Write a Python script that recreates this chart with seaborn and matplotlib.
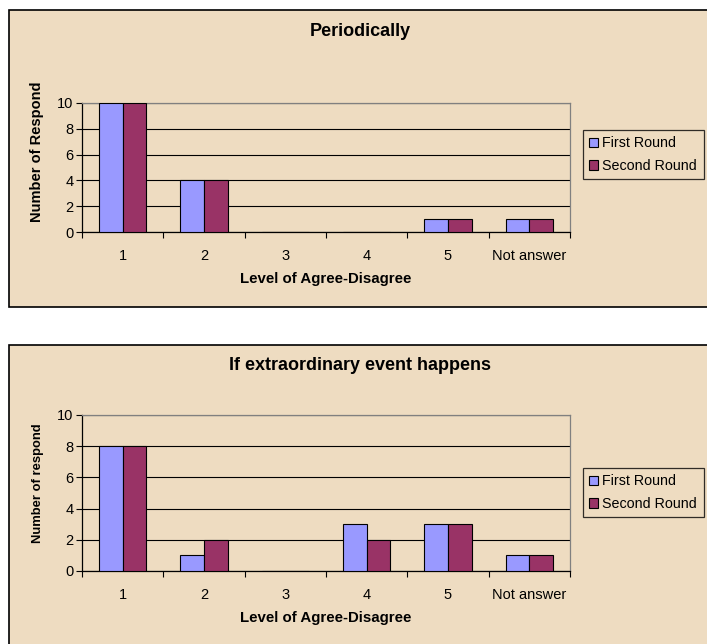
import pandas as pd
import seaborn as sns
import matplotlib.pyplot as plt
from matplotlib.patches import Rectangle

# chart values
levels = ["1", "2", "3", "4", "5", "Not answer"]
rounds = ["First Round", "Second Round"]
periodic_first = [10, 4, 0, 0, 1, 1]
periodic_second = [10, 4, 0, 0, 1, 1]
extra_first = [8, 1, 0, 3, 3, 1]
extra_second = [8, 2, 0, 2, 3, 1]

W, H = 707, 644
bg = "#EEDCC1"
colors = ["#9999FF", "#993366"]

sns.set_theme(style="white")
plt.rcParams["font.family"] = ["Liberation Sans", "DejaVu Sans"]
plt.rcParams["text.color"] = "black"
plt.rcParams["axes.labelcolor"] = "black"
plt.rcParams["xtick.color"] = "black"
plt.rcParams["ytick.color"] = "black"

fig = plt.figure(figsize=(W / 100, H / 100), dpi=100)
fig.patch.set_facecolor("white")


def long_df(first, second):
    return pd.DataFrame({
        "level": levels * 2,
        "count": first + second,
        "round": [rounds[0]] * len(levels) + [rounds[1]] * len(levels),
    })


def panel(top, bottom, ax_top, ax_bottom, title, ylabel, first, second, leg_top,
          ylab_size, ylab_y):
    # chart area box (pixel coords from top)
    fig.patches.append(Rectangle((9 / W, 1 - bottom / H), 1.0, (bottom - top) / H,
                                 transform=fig.transFigure, facecolor=bg,
                                 edgecolor="black", linewidth=1.2, zorder=-5))
    ax = fig.add_axes([82 / W, 1 - ax_bottom / H, 488 / W, (ax_bottom - ax_top) / H])
    ax.set_facecolor(bg)
    sns.barplot(data=long_df(first, second), x="level", y="count", hue="round",
                palette=colors, width=0.58, edgecolor="black", linewidth=0.8,
                saturation=1, ax=ax, zorder=3)
    ax.set_ylim(0, 10)
    ax.set_xlim(-0.5, 5.5)
    ax.set_yticks(range(0, 11, 2))
    ax.yaxis.grid(True, color="black", linewidth=0.8, zorder=0)
    ax.set_axisbelow(True)
    ax.tick_params(axis="y", direction="out", length=4, width=0.8, color="black",
                   labelsize=10.5, pad=2, left=True)
    ax.set_xticks(range(len(levels)))
    ax.set_xticklabels(levels)
    ax.tick_params(axis="x", which="major", length=0, labelsize=10.5, pad=12)
    ax.set_xticks([i - 0.5 for i in range(len(levels) + 1)], minor=True)
    ax.tick_params(axis="x", which="minor", direction="out", length=4, width=0.8,
                   color="black", bottom=True)
    for s in ["left", "bottom"]:
        ax.spines[s].set_color("black")
        ax.spines[s].set_linewidth(0.9)
    for s in ["top", "right"]:
        ax.spines[s].set_color("#808080")
        ax.spines[s].set_linewidth(0.9)
    ax.set_xlabel("Level of Agree-Disagree", fontsize=10.8, fontweight="bold", labelpad=7)
    ax.set_ylabel(ylabel, fontsize=ylab_size, fontweight="bold")
    ax.yaxis.set_label_coords(-38 / 488, ylab_y)
    handles, labels = ax.get_legend_handles_labels()
    ax.get_legend().remove()
    fig.text(360 / W, 1 - (top + 21) / H, title, ha="center", va="center",
             fontsize=13, fontweight="bold")
    leg = fig.legend(handles, labels, loc="upper left",
                     bbox_to_anchor=(583 / W, 1 - leg_top / H),
                     fontsize=10.3, frameon=True, fancybox=False, facecolor=bg,
                     edgecolor="black", handlelength=0.6, handleheight=0.6,
                     handletextpad=0.3, borderpad=0.45, labelspacing=0.6,
                     borderaxespad=0)
    leg.get_frame().set_linewidth(0.9)


panel(10, 307, 103, 232, "Periodically", "Number of Respond",
      periodic_first, periodic_second, 130, 10.5, 0.62)
panel(345, 660, 415, 571, "If extraordinary event happens", "Number of respond",
      extra_first, extra_second, 468, 9.4, 0.56)

plt.savefig("out.png", dpi=100, facecolor="white")
